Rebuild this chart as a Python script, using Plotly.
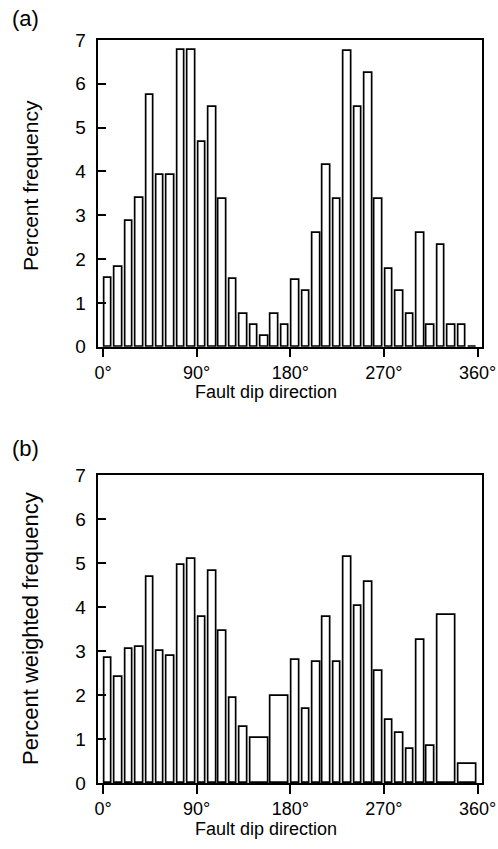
import plotly.graph_objects as go

# ---------------- data ----------------
# Panel (a): 10-degree bins of fault dip direction
bin_lo_a = list(range(0, 360, 10))
bin_hi_a = list(range(10, 370, 10))
freq_a = [1.56, 1.81, 2.88, 3.40, 5.74, 3.91, 3.91, 6.77, 6.77, 4.68,
          5.46, 3.37, 1.54, 0.74, 0.50, 0.24, 0.74, 0.50, 1.53, 1.26,
          2.59, 4.15, 3.37, 6.76, 5.46, 6.24, 3.37, 1.78, 1.26, 0.74,
          2.59, 0.50, 2.32, 0.50, 0.50, 0.0]

# Panel (b): weighted frequency, some bins merged to 20 degrees
bin_lo_b = [0, 10, 20, 30, 40, 50, 60, 70, 80, 90, 100, 110, 120, 130, 140, 160,
            180, 190, 200, 210, 220, 230, 240, 250, 260, 270, 280, 290, 300, 310, 320, 340]
bin_hi_b = [10, 20, 30, 40, 50, 60, 70, 80, 90, 100, 110, 120, 130, 140, 160, 180,
            190, 200, 210, 220, 230, 240, 250, 260, 270, 280, 290, 300, 310, 320, 340, 360]
freq_b = [2.84, 2.40, 3.05, 3.08, 4.69, 3.00, 2.89, 4.96, 5.10, 3.78,
          4.81, 3.45, 1.93, 1.28, 1.03, 1.97,
          2.80, 1.69, 2.74, 3.77, 2.76, 5.14, 4.03, 4.57, 2.55, 1.44,
          1.13, 0.77, 3.25, 0.85, 3.82, 0.44]

x_tick_vals = [0, 90, 180, 270, 360]
x_tick_text = ["0°", "90°", "180°", "270°", "360°"]
y_tick_vals = [0, 1, 2, 3, 4, 5, 6, 7]

panel_labels = ["(a)", "(b)"]
y_titles = ["Percent frequency", "Percent weighted frequency"]
x_title = "Fault dip direction"

# ---------------- figure ----------------
W, H = 498, 849
GAP = 2.8  # degrees of white space between adjacent bars
FONT = "Liberation Sans, Arial, Helvetica, sans-serif"


def bars(lo, hi, vals, xa, ya):
    centers = [(a + b) / 2 for a, b in zip(lo, hi)]
    widths = [(b - a) - GAP for a, b in zip(lo, hi)]
    return go.Bar(x=centers, y=vals, width=widths,
                  marker=dict(color="white", line=dict(color="black", width=1.7)),
                  xaxis=xa, yaxis=ya, showlegend=False, hoverinfo="x+y")


fig = go.Figure()
fig.add_trace(bars(bin_lo_a, bin_hi_a, freq_a, "x", "y"))
fig.add_trace(bars(bin_lo_b, bin_hi_b, freq_b, "x2", "y2"))

xdom = [97.5 / W, 481.5 / W]
ydom_a = [1 - 346.7 / H, 1 - 40 / H]
ydom_b = [1 - 783 / H, 1 - 475 / H]

xcommon = dict(domain=xdom, range=[-5.3, 363.8], tickvals=x_tick_vals, ticktext=x_tick_text,
               ticks="outside", ticklen=9, tickwidth=1.5, tickcolor="black",
               showline=True, linecolor="black", linewidth=1.5, mirror=True,
               showgrid=False, zeroline=False, automargin=False,
               tickfont=dict(family=FONT, size=18, color="black"))
ycommon = dict(range=[0, 7], tickvals=y_tick_vals,
               ticks="inside", ticklen=9, tickwidth=1.5, tickcolor="black",
               showline=True, linecolor="black", linewidth=1.5, mirror=True,
               showgrid=False, zeroline=False, ticklabelstandoff=6, automargin=False,
               tickfont=dict(family=FONT, size=19, color="black"))

fig.update_layout(
    width=W, height=H,
    margin=dict(l=0, r=0, t=0, b=0, pad=0, autoexpand=False),
    paper_bgcolor="white", plot_bgcolor="white",
    bargap=0, showlegend=False,
    xaxis=dict(**xcommon, anchor="y"),
    yaxis=dict(**ycommon, domain=ydom_a, anchor="x"),
    xaxis2=dict(**xcommon, anchor="y2"),
    yaxis2=dict(**ycommon, domain=ydom_b, anchor="x2"),
)

ann = []
for lab, ypx in zip(panel_labels, [18, 448]):
    ann.append(dict(text=lab, x=10 / W, y=1 - ypx / H, xref="paper", yref="paper",
                    xanchor="left", yanchor="middle", showarrow=False,
                    font=dict(family=FONT, size=22, color="black")))
for t, ycen, fs in zip(y_titles, [186, 629], [21, 22]):
    ann.append(dict(text=t, x=30 / W, y=1 - ycen / H, xref="paper", yref="paper",
                    xanchor="center", yanchor="middle", textangle=-90, showarrow=False,
                    font=dict(family=FONT, size=fs, color="black")))
for ypx in [392, 829]:
    ann.append(dict(text=x_title, x=266 / W, y=1 - ypx / H, xref="paper", yref="paper",
                    xanchor="center", yanchor="middle", showarrow=False,
                    font=dict(family=FONT, size=18, color="black")))
fig.update_layout(annotations=ann)

fig.write_html("out.html")
